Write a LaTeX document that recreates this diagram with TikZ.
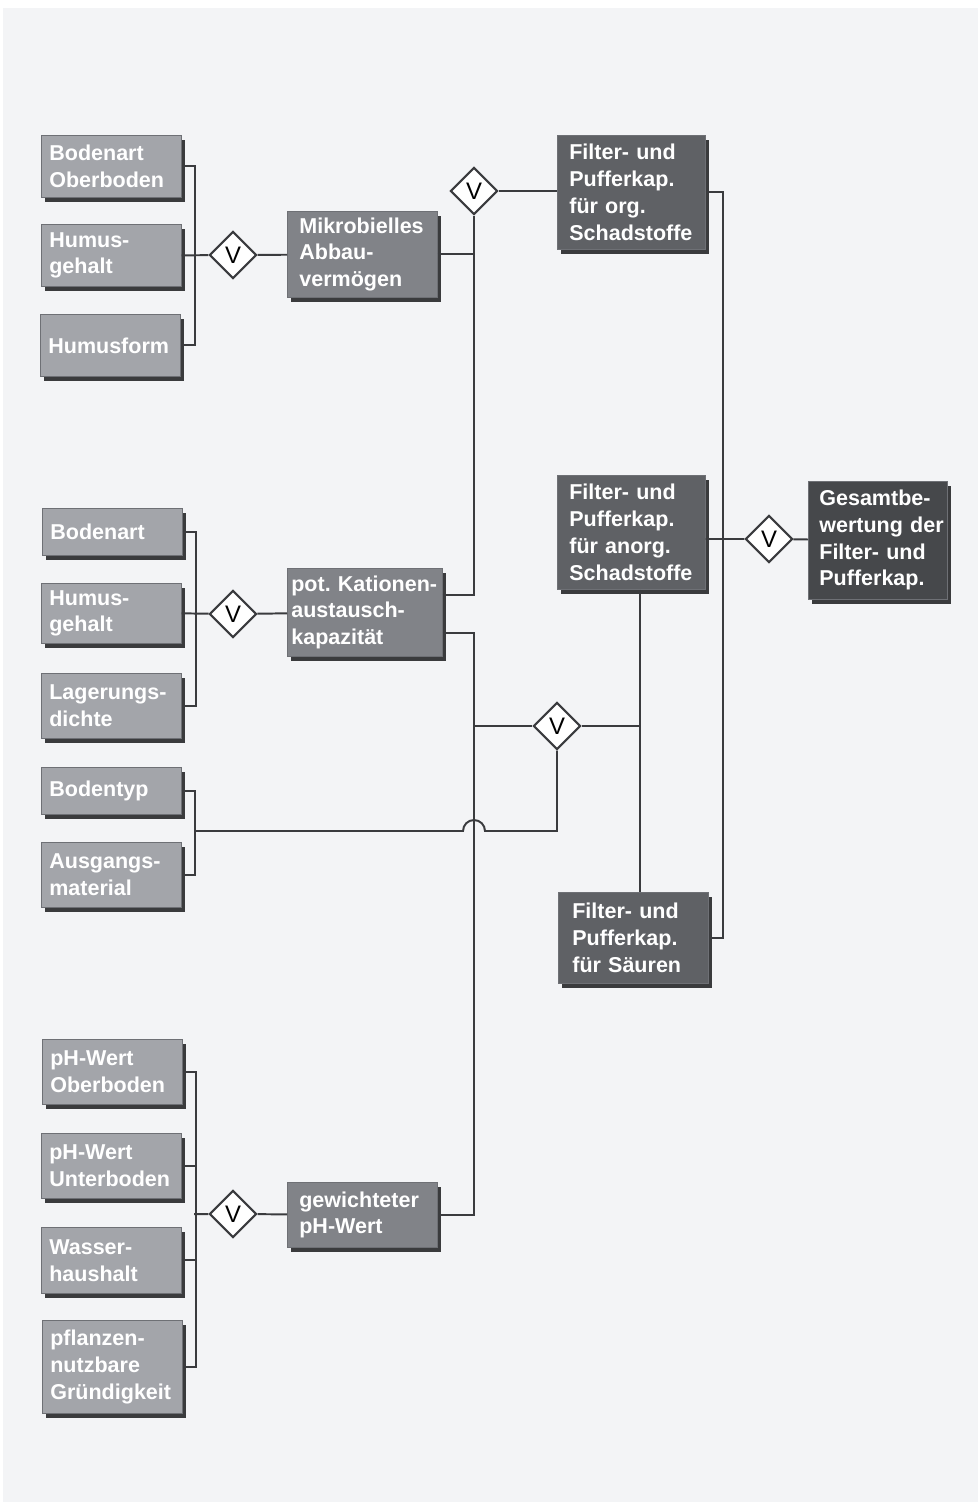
\documentclass[tikz,border=0pt]{standalone}
\usepackage{fontspec}
\setmainfont{Liberation Sans}
\usetikzlibrary{shapes.geometric,shadows}
\definecolor{fbback}{HTML}{F3F4F6}
\definecolor{fbin}{HTML}{A3A5AA}
\definecolor{fbmid}{HTML}{818388}
\definecolor{fbfilt}{HTML}{5F6165}
\definecolor{fbtotal}{HTML}{46484B}
\definecolor{fbshade}{HTML}{3A3B3D}
\definecolor{fbedge}{HTML}{6E7075}
\definecolor{fbline}{HTML}{3A3B3E}
\tikzset{
  tile/.style={anchor=north west,draw=fbedge,line width=0.5pt,text=white,align=left,
               inner ysep=0pt,font=\fontsize{15.3}{19}\selectfont\bfseries,
               execute at begin node={\exhyphenpenalty=10000 \hyphenpenalty=10000},
               drop shadow={shadow xshift=1mm,shadow yshift=-1.25mm,fill=fbshade,opacity=1}},
  inbox/.style={tile,fill=fbin,inner xsep=2mm,text width=31mm},
  midbox/.style={tile,fill=fbmid,inner xsep=3mm,text width=31.5mm},
  filterbox/.style={tile,fill=fbfilt,inner xsep=3mm,text width=31mm},
  totalbox/.style={tile,fill=fbtotal,inner xsep=2.75mm,text width=29.25mm},
  orgate/.style={diamond,aspect=1,draw=fbline,fill=white,line width=1.6pt,
                 minimum size=11.8mm,inner sep=0pt,font=\fontsize{17}{17}\selectfont},
  conn/.style={draw=fbline,line width=1.4pt},
}
\begin{document}
\begin{tikzpicture}[x=0.25mm,y=-0.25mm]
  \useasboundingbox (0,0) rectangle (978,1502);
  \fill[fbback] (3,8) rectangle (978,1502);

  % Eingangsgroessen
  \node[inbox,minimum height=15.5mm] (bo) at (41,135) {Bodenart\\Oberboden};
  \node[inbox,minimum height=15.5mm] (hg1) at (41,224) {Humus-\\gehalt};
  \node[inbox,minimum height=15.5mm] (hf) at (40,314) {Humusform};
  \node[inbox,minimum height=11.75mm] (ba) at (42,508) {Bodenart};
  \node[inbox,minimum height=15mm] (hg2) at (41,583) {Humus-\\gehalt};
  \node[inbox,minimum height=16.25mm] (ld) at (41,673) {Lagerungs-\\dichte};
  \node[inbox,minimum height=11.75mm] (bt) at (41,767) {Bodentyp};
  \node[inbox,minimum height=16.25mm] (am) at (41,842) {Ausgangs-\\material};
  \node[inbox,minimum height=16.25mm] (pho) at (42,1039) {pH-Wert\\Oberboden};
  \node[inbox,minimum height=16.25mm] (phu) at (41,1133) {pH-Wert\\Unterboden};
  \node[inbox,minimum height=16.5mm] (wh) at (41,1227) {Wasser-\\haushalt};
  \node[inbox,minimum height=23.25mm] (pg) at (42,1320) {pflanzen-\\nutzbare\\Gründigkeit};

  % Zwischengroessen
  \node[midbox,minimum height=21.5mm] (mab) at (287,211) {Mikrobielles\\Abbau-\\vermögen};
  \node[midbox,inner xsep=1mm,text width=36.75mm,minimum height=22mm] (pkk) at (287,568)
       {pot.~Kationen-\\austausch-\\kapazität};
  \node[midbox,minimum height=16.25mm] (gph) at (287,1182) {gewichteter\\pH-Wert};

  % Filter- und Pufferkapazitaeten
  \node[filterbox,minimum height=28.5mm] (fpo) at (557,135) {Filter-~und\\Pufferkap.\\für~org.\\Schadstoffe};
  \node[filterbox,minimum height=28.5mm] (fpa) at (557,475) {Filter-~und\\Pufferkap.\\für~anorg.\\Schadstoffe};
  \node[filterbox,inner xsep=3.5mm,text width=30.5mm,minimum height=22.75mm] (fps) at (558,892)
       {Filter-~und\\Pufferkap.\\für~Säuren};
  \node[totalbox,minimum height=29.5mm] (ges) at (808,481) {Gesamtbe-\\wertung~der\\Filter-~und\\Pufferkap.};

  % Verknuepfungen
  \node[orgate] (g1) at (233,255) {V};
  \node[orgate] (g2) at (474,191) {V};
  \node[orgate] (g3) at (769,539) {V};
  \node[orgate] (g4) at (557,726) {V};
  \node[orgate] (g5) at (233,614) {V};
  \node[orgate] (g6) at (233,1214) {V};
  \coordinate (hop) at (474,831);
  \coordinate (tb) at (194,831);
  \coordinate (vj) at (640,726);

  \draw[conn] (bo.east) -- ++(13,0) |- (hf.east);
  \draw[conn] (hg1.east) -- (g1) -- (mab);
  \draw[conn] (mab.east) -| (g2);
  \draw[conn] (g2) -- (g2 -| fpo.west);

  \draw[conn] (ba.east) -- ++(13,0) |- (ld.east);
  \draw[conn] (hg2.east) -- (g5) -- (pkk);
  \draw[conn] ([yshift=4.25mm]pkk.east) -| (g2);
  \draw[conn] ([yshift=-5.25mm]pkk.east) -| (g2 |- gph.east) -- (gph.east);

  \draw[conn] (bt.east) -- ++(13,0) |- (am.east);
  \draw[conn] (g4) |- ([xshift=2.75mm]hop) arc[start angle=0,end angle=180,radius=2.75mm] -- (tb);
  \draw[conn] (g2 |- g4) -- (g4) -- (vj);
  \draw[conn] (fpa.south -| vj) -- (fps.north -| vj);

  \draw[conn] (pho.east) -- ++(13,0) |- (pg.east);
  \draw[conn] (phu.east) -- ++(13,0);
  \draw[conn] (wh.east) -- ++(13,0);
  \draw[conn] (g6 -| tb) -- (g6) -- (gph);

  \draw[conn] (fpo.east) -- ++(17,0) |- (fps.east);
  \draw[conn] (fpa.east |- g3) -- (g3) -- (ges);
\end{tikzpicture}
\end{document}
